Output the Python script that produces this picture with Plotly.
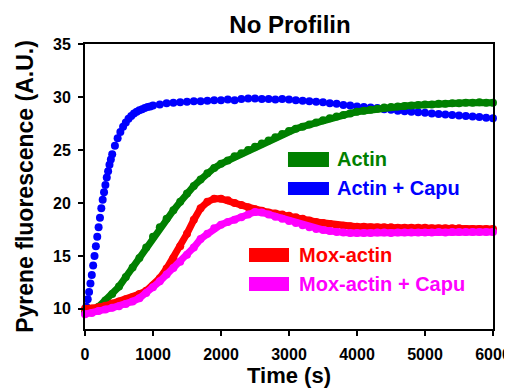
import plotly.graph_objects as go

# ---- data ----
time_s = list(range(0, 6001, 100))

actin = [9.7, 9.8, 10.2, 10.8, 11.4, 12.1, 13.0, 13.9, 14.8, 15.8,
         16.8, 17.7, 18.5, 19.3, 20.1, 20.9, 21.6, 22.2, 22.8, 23.3,
         23.7, 24.0, 24.4, 24.7, 25.0, 25.3, 25.6, 25.9, 26.2, 26.5,
         26.8, 27.0, 27.2, 27.4, 27.6, 27.8, 28.0, 28.15, 28.3, 28.45,
         28.6, 28.7, 28.8, 28.9, 29.0, 29.05, 29.1, 29.15, 29.2, 29.25,
         29.3, 29.3, 29.35, 29.35, 29.4, 29.4, 29.45, 29.45, 29.5, 29.45,
         29.45]

mox_actin = [10.0, 10.0, 10.15, 10.3, 10.5, 10.7, 10.9, 11.1, 11.4, 11.7,
             12.2, 12.9, 13.8, 14.8, 15.9, 17.1, 18.4, 19.5, 20.1, 20.4,
             20.4, 20.25, 20.0, 19.8, 19.6, 19.4, 19.25, 19.1, 19.0, 18.9,
             18.8, 18.65, 18.5, 18.35, 18.2, 18.1, 18.0, 17.9, 17.85, 17.8,
             17.75, 17.75, 17.7, 17.7, 17.7, 17.7, 17.65, 17.65, 17.65, 17.65,
             17.65, 17.6, 17.6, 17.6, 17.6, 17.6, 17.55, 17.55, 17.55, 17.55,
             17.55]

mox_actin_capu = [9.5, 9.6, 9.8, 9.95, 10.1, 10.25, 10.45, 10.7, 11.0, 11.5,
                  12.05, 12.6, 13.25, 13.85, 14.45, 15.1, 15.8, 16.6, 17.1, 17.6,
                  17.95, 18.2, 18.4, 18.65, 18.9, 19.15, 19.1, 18.9, 18.7, 18.5,
                  18.3, 18.1, 17.9, 17.7, 17.55, 17.45, 17.35, 17.25, 17.2, 17.15,
                  17.15, 17.15, 17.15, 17.2, 17.2, 17.15, 17.2, 17.2, 17.2, 17.2,
                  17.2, 17.2, 17.25, 17.2, 17.25, 17.25, 17.25, 17.25, 17.25, 17.25,
                  17.25]

time_capu = ([0, 20, 40, 60, 80, 100, 120, 140, 160, 180, 200, 220, 240, 260, 280,
              300, 320, 340, 360, 380, 400,
              440, 480, 520, 560, 600, 640, 680, 720, 760, 800, 840, 880, 920, 960, 1000]
             + list(range(1100, 6001, 100)))

actin_capu = [9.6, 10.2, 10.9, 11.6, 12.4, 13.2, 14.1, 15.0, 15.9, 16.8,
              17.7, 18.6, 19.5, 20.3, 21.0, 21.7, 22.4, 23.0, 23.6, 24.1,
              24.6,
              25.4, 26.1, 26.7, 27.2, 27.6, 27.95, 28.2, 28.45, 28.6, 28.75,
              28.85, 28.95, 29.05, 29.1, 29.2,
              29.3, 29.4, 29.45, 29.5, 29.55, 29.6, 29.6, 29.65, 29.7, 29.7,
              29.75, 29.7, 29.8, 29.85, 29.85, 29.8, 29.8, 29.75, 29.8, 29.75,
              29.7, 29.65, 29.6, 29.55, 29.5, 29.4, 29.35, 29.25, 29.2, 29.1,
              29.05, 29.0, 28.95, 28.85, 28.8, 28.7, 28.65, 28.6, 28.55, 28.5,
              28.45, 28.4, 28.35, 28.3, 28.25, 28.2, 28.15, 28.1, 28.05, 28.0]

x_ticks = [0, 1000, 2000, 3000, 4000, 5000, 6000]
y_ticks = [10, 15, 20, 25, 30, 35]

GREEN = "#008000"
BLUE = "#0000ff"
RED = "#ff0000"
MAGENTA = "#ff00ff"
FONT = "Arial, Liberation Sans, sans-serif"

fig = go.Figure()
fig.add_trace(go.Scatter(x=time_capu, y=actin_capu, mode="markers", name="Actin + Capu",
                         marker=dict(color=BLUE, size=8), cliponaxis=False, showlegend=False))
fig.add_trace(go.Scatter(x=time_s, y=actin, mode="lines+markers", name="Actin",
                         line=dict(color=GREEN, width=7), marker=dict(color=GREEN, size=8),
                         cliponaxis=False, showlegend=False))
fig.add_trace(go.Scatter(x=time_s, y=mox_actin, mode="lines+markers", name="Mox-actin",
                         line=dict(color=RED, width=7), marker=dict(color=RED, size=8),
                         cliponaxis=False, showlegend=False))
fig.add_trace(go.Scatter(x=time_s, y=mox_actin_capu, mode="lines+markers", name="Mox-actin + Capu",
                         line=dict(color=MAGENTA, width=7), marker=dict(color=MAGENTA, size=8),
                         cliponaxis=False, showlegend=False))

# legend swatches + labels (paper coordinates)
legend_items = [
    ("Actin", GREEN, 0.4975, 0.598, 0.568, 0.621, 0.613, 0.595),
    ("Actin + Capu", BLUE, 0.4975, 0.598, 0.470, 0.516, 0.613, 0.493),
    ("Mox-actin", RED, 0.402, 0.500, 0.235, 0.284, 0.520, 0.260),
    ("Mox-actin + Capu", MAGENTA, 0.402, 0.500, 0.133, 0.1825, 0.520, 0.158),
]
for label, col, x0, x1, y0, y1, tx, ty in legend_items:
    fig.add_shape(type="rect", xref="paper", yref="paper", x0=x0, x1=x1, y0=y0, y1=y1,
                  fillcolor=col, line=dict(width=0))
    fig.add_annotation(xref="paper", yref="paper", x=tx, y=ty, text="<b>%s</b>" % label,
                       showarrow=False, xanchor="left", yanchor="middle",
                       font=dict(family=FONT, size=20, color=col))

axis_common = dict(showline=True, linecolor="black", linewidth=2, mirror=True,
                   ticks="outside", ticklen=5, tickwidth=2, tickcolor="black",
                   showgrid=False, zeroline=False, automargin=False,
                   tickfont=dict(family=FONT, size=16, color="black", weight="bold"))

# page body has an 8px margin, so the figure is 504x381 placed at (8, 8)
fig.update_layout(
    width=504, height=381,
    margin=dict(l=77, r=19, t=36, b=60),
    paper_bgcolor="white", plot_bgcolor="white",
    title=dict(text="<b>No Profilin</b>", x=(290 - 8) / 504, xanchor="center",
               y=1 - 17 / 381, yanchor="middle", yref="container",
               font=dict(family=FONT, size=24, color="black")),
    xaxis=dict(range=[0, 6000], tickvals=x_ticks, ticklabelstandoff=5,
               title=dict(text="<b>Time (s)</b>", standoff=4,
                          font=dict(family=FONT, size=22, color="black")),
               **axis_common),
    yaxis=dict(range=[8.1, 35], tickvals=y_ticks, ticklabelstandoff=4,
               title=dict(text="<b>Pyrene fluorescence (A.U.)</b>", standoff=13,
                          font=dict(family=FONT, size=23, color="black")),
               **axis_common),
)

fig.write_html("out.html")
